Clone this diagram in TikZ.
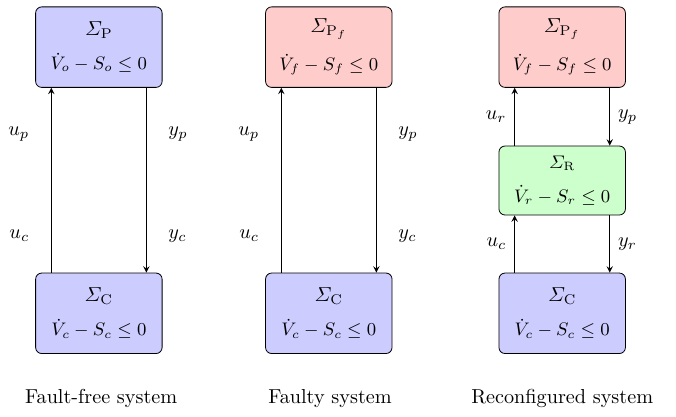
\documentclass[tikz,border=0pt]{standalone}
\usepackage{amsmath}
\begin{document}
\begin{tikzpicture}
    \tikzstyle{arrow} = [->,>=stealth, line width=0.4pt]
    \tikzstyle{sys} = [rectangle, draw=black, rounded corners=3pt, align=center,
        minimum height=1.4cm, minimum width=2.2cm, font=\small]
    \tikzstyle{plant} = [sys, fill=blue!20]
    \tikzstyle{faulty} = [sys, fill=red!20]
    \tikzstyle{ctrl} = [sys, fill=blue!20]
    \tikzstyle{recon} = [sys, fill=green!20, minimum height=1.2cm]

    \useasboundingbox (0,0) rectangle (11.76,-7.24);

    % fault-free loop
    \node(plant) [plant] at (1.72,-0.82)
        {\normalsize $\varSigma_{\mathrm{P}}$\\[6pt] $\dot{V}_o - S_o \leq 0$};
    \node(ctrlA) [ctrl] at (1.72,-5.45)
        {\normalsize $\varSigma_{\mathrm{C}}$\\[6pt] $\dot{V}_c - S_c \leq 0$};

    % faulty loop
    \node(fplantB) [faulty] at (5.72,-0.82)
        {\normalsize $\varSigma_{\mathrm{P}_f}$\\[6pt] $\dot{V}_f - S_f \leq 0$};
    \node(ctrlB) [ctrl] at (5.72,-5.45)
        {\normalsize $\varSigma_{\mathrm{C}}$\\[6pt] $\dot{V}_c - S_c \leq 0$};

    % reconfigured loop
    \node(fplantC) [faulty] at (9.78,-0.82)
        {\normalsize $\varSigma_{\mathrm{P}_f}$\\[6pt] $\dot{V}_f - S_f \leq 0$};
    \node(reconf) [recon] at (9.78,-3.14)
        {$\varSigma_{\mathrm{R}}$\\[6pt] $\dot{V}_r - S_r \leq 0$};
    \node(ctrlC) [ctrl] at (9.78,-5.45)
        {\normalsize $\varSigma_{\mathrm{C}}$\\[6pt] $\dot{V}_c - S_c \leq 0$};

    \draw[arrow] ([xshift=0.28cm]ctrlA.north west) --
        node[pos=0.2,left=0.26cm] {$u_c$}
        node[pos=0.75,left=0.26cm] {$u_p$}
        ([xshift=0.28cm]plant.south west);
    \draw[arrow] ([xshift=-0.28cm]plant.south east) --
        node[pos=0.25,right=0.26cm] {$y_p$}
        node[pos=0.8,right=0.26cm] {$y_c$}
        ([xshift=-0.28cm]ctrlA.north east);

    \draw[arrow] ([xshift=0.28cm]ctrlB.north west) --
        node[pos=0.2,left=0.26cm] {$u_c$}
        node[pos=0.75,left=0.26cm] {$u_p$}
        ([xshift=0.28cm]fplantB.south west);
    \draw[arrow] ([xshift=-0.28cm]fplantB.south east) --
        node[pos=0.25,right=0.26cm] {$y_p$}
        node[pos=0.8,right=0.26cm] {$y_c$}
        ([xshift=-0.28cm]ctrlB.north east);

    \draw[arrow] ([xshift=0.28cm]reconf.north west) --
        node[pos=0.5,left=0.02cm] {$u_r$}
        ([xshift=0.28cm]fplantC.south west);
    \draw[arrow] ([xshift=-0.28cm]fplantC.south east) --
        node[pos=0.5,right=0.02cm] {$y_p$}
        ([xshift=-0.28cm]reconf.north east);
    \draw[arrow] ([xshift=0.28cm]ctrlC.north west) --
        node[pos=0.5,left=0.02cm] {$u_c$}
        ([xshift=0.28cm]reconf.south west);
    \draw[arrow] ([xshift=-0.28cm]reconf.south east) --
        node[pos=0.5,right=0.02cm] {$y_r$}
        ([xshift=-0.28cm]ctrlC.north east);

    \node(capA) at (1.76,-6.94) {Fault-free system};
    \node(capB) at (5.74,-6.94) {Faulty system};
    \node(capC) at (9.78,-6.94) {Reconfigured system};
\end{tikzpicture}
\end{document}
